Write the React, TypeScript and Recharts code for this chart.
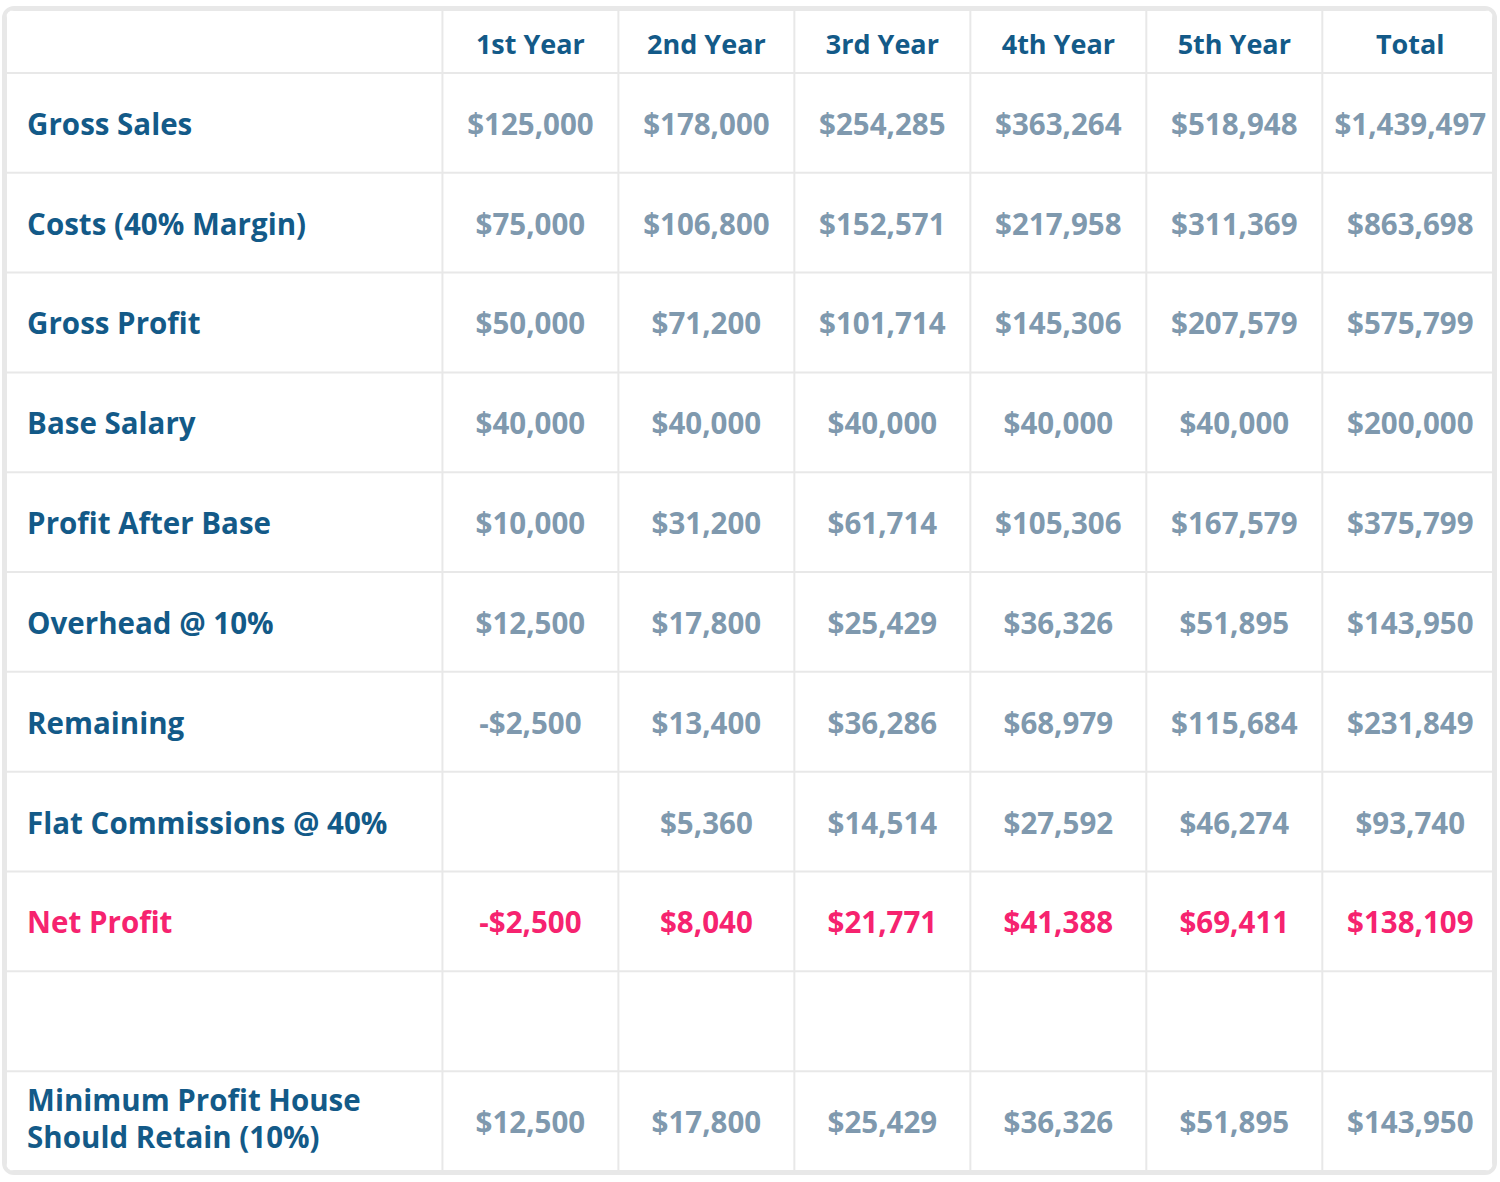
import React from "react";
import {
  ComposedChart,
  Scatter,
  XAxis,
  YAxis,
  CartesianGrid,
} from "recharts";

const yearLabels = ["1st Year", "2nd Year", "3rd Year", "4th Year", "5th Year", "Total"];

const rowLabels = [
  "Gross Sales",
  "Costs (40% Margin)",
  "Gross Profit",
  "Base Salary",
  "Profit After Base",
  "Overhead @ 10%",
  "Remaining",
  "Flat Commissions @ 40%",
  "Net Profit",
  "",
  "Minimum Profit House\nShould Retain (10%)",
];

const grossSales = [125000, 178000, 254285, 363264, 518948, 1439497];
const costs = [75000, 106800, 152571, 217958, 311369, 863698];
const grossProfit = [50000, 71200, 101714, 145306, 207579, 575799];
const baseSalary = [40000, 40000, 40000, 40000, 40000, 200000];
const profitAfterBase = [10000, 31200, 61714, 105306, 167579, 375799];
const overhead = [12500, 17800, 25429, 36326, 51895, 143950];
const remaining = [-2500, 13400, 36286, 68979, 115684, 231849];
const flatCommissions = [null, 5360, 14514, 27592, 46274, 93740];
const netProfit = [-2500, 8040, 21771, 41388, 69411, 138109];
const emptyRow = [null, null, null, null, null, null];
const minProfitRetained = [12500, 17800, 25429, 36326, 51895, 143950];

const rowValues = [
  grossSales,
  costs,
  grossProfit,
  baseSalary,
  profitAfterBase,
  overhead,
  remaining,
  flatCommissions,
  netProfit,
  emptyRow,
  minProfitRetained,
];

const highlightRow = "Net Profit";

// table geometry in axis units: label column ~2.5 units wide, each year column 1 unit,
// header row is 0.63 units tall, each body row 1 unit
const LABEL_W = 2.48;
const HEADER_H = 0.63;
const X_MAX = LABEL_W + yearLabels.length - 0.03;
const Y_MAX = HEADER_H + rowLabels.length;

const BLUE = "#135a88";
const GREY = "#7f99ae";
const PINK = "#f6236f";

const fmt = (v: number) => (v < 0 ? "-$" : "$") + Math.abs(v).toLocaleString("en-US");

type Cell = { x: number; y: number; text: string; kind: "head" | "label" | "value" | "net" };

const cells: Cell[] = [];
yearLabels.forEach((t, c) => {
  cells.push({ x: LABEL_W + c + 0.5, y: HEADER_H / 2 + 0.02, text: t, kind: "head" });
});
rowLabels.forEach((label, r) => {
  const yc = HEADER_H + r + 0.5;
  const net = label === highlightRow;
  if (label) cells.push({ x: 0.12, y: yc, text: label, kind: net ? "net" : "label" });
  rowValues[r].forEach((v, c) => {
    if (v === null) return;
    cells.push({ x: LABEL_W + c + 0.5, y: yc, text: fmt(v), kind: net ? "net" : "value" });
  });
});

const colLines = yearLabels.map((_, c) => LABEL_W + c);
const rowLines = rowLabels.map((_, r) => HEADER_H + r);

const CellText = (props: any) => {
  const { cx, cy, payload } = props;
  if (cx == null || cy == null) return null;
  const p = payload as Cell;
  const color = p.kind === "net" ? PINK : p.kind === "value" ? GREY : BLUE;
  const lines = p.text.split("\n");
  const lh = 37;
  const y0 = cy - ((lines.length - 1) * lh) / 2 - (lines.length > 1 ? 4 : 0);
  const leftAligned = p.x < LABEL_W;
  return (
    <text
      x={cx}
      y={y0}
      fill={color}
      fontSize={p.kind === "head" ? 27 : 29.5}
      fontWeight={700}
      fontFamily="'Open Sans', Lato, sans-serif"
      textAnchor={leftAligned ? "start" : "middle"}
      dominantBaseline="central"
    >
      {lines.map((l, i) => (
        <tspan key={i} x={cx} dy={i === 0 ? 0 : lh}>
          {l}
        </tspan>
      ))}
    </text>
  );
};

export default function App() {
  return (
    <div style={{ position: "relative", width: 1500, height: 1182, background: "#fff" }}>
      <style>{`body{margin:0;background:#fff}`}</style>
      <div
        style={{
          position: "absolute",
          left: 2,
          top: 6,
          width: 1487,
          height: 1161,
          border: "4px solid #e8e8e8",
          borderRadius: 12,
          overflow: "hidden",
        }}
      >
        <ComposedChart
          width={1487}
          height={1161}
          data={cells}
          margin={{ top: 0, right: 0, bottom: 0, left: 0 }}
        >
          <CartesianGrid stroke="#e8e8e8" strokeWidth={2} />
          <XAxis
            type="number"
            dataKey="x"
            domain={[0, X_MAX]}
            ticks={colLines}
            hide
          />
          <YAxis
            type="number"
            dataKey="y"
            domain={[0, Y_MAX]}
            ticks={rowLines}
            reversed
            hide
          />
          <Scatter data={cells} dataKey="y" shape={CellText} isAnimationActive={false} />
        </ComposedChart>
      </div>
    </div>
  );
}
